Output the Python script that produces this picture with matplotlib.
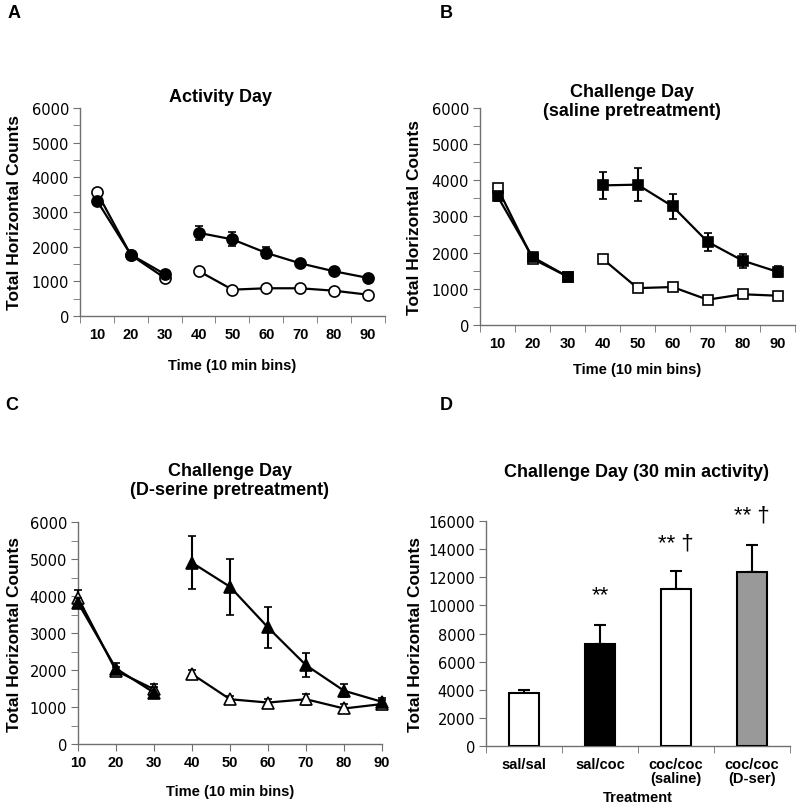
import matplotlib
matplotlib.use("Agg")
import matplotlib.pyplot as plt
import numpy as np
from matplotlib.ticker import MultipleLocator, FixedLocator

plt.rcParams["font.family"] = ["Liberation Sans", "DejaVu Sans"]

# Data
bins = [10, 20, 30, 40, 50, 60, 70, 80, 90]

# Panel A - activity day
a_filled = [3330, 1770, 1210, 2400, 2210, 1820, 1520, 1290, 1100]
a_filled_err = [80, 60, 60, 200, 200, 160, 90, 70, 60]
a_open = [3570, 1760, 1100, 1300, 760, 800, 800, 730, 615]
a_open_err = [60, 50, 40, 60, 40, 30, 30, 30, 30]

# Panel B - challenge day (saline pretreatment)
b_filled = [3560, 1880, 1340, 3860, 3880, 3280, 2300, 1780, 1470]
b_filled_err = [120, 70, 60, 370, 460, 340, 250, 190, 150]
b_open = [3790, 1830, 1340, 1830, 1020, 1050, 700, 850, 810]
b_open_err = [60, 50, 40, 40, 30, 30, 30, 30, 30]

# Panel C - challenge day (D-serine pretreatment)
c_filled = [3820, 2040, 1390, 4900, 4250, 3150, 2130, 1440, 1140]
c_filled_err = [130, 150, 160, 710, 760, 560, 320, 180, 110]
c_open = [3950, 1980, 1480, 1890, 1210, 1120, 1210, 960, 1080]
c_open_err = [220, 100, 150, 120, 100, 100, 150, 130, 110]

# Panel D - 30 min activity
treatments = ["sal/sal", "sal/coc", "coc/coc\n(saline)", "coc/coc\n(D-ser)"]
d_means = [3790, 7270, 11200, 12370]
d_err = [170, 1350, 1230, 1940]
d_colors = ["white", "black", "white", "#999999"]
d_marks = ["", "**", "** \u2020", "** \u2020"]
d_mark_y = [0, 10750, 14450, 16400]

SPINE = "#707070"


def style_axes(ax):
    for s in ["top", "right"]:
        ax.spines[s].set_visible(False)
    for s in ["left", "bottom"]:
        ax.spines[s].set_color(SPINE)
        ax.spines[s].set_linewidth(1.0)
    ax.tick_params(axis="y", which="both", direction="out", length=5,
                   color=SPINE, labelsize=10.5, pad=3)
    for lab in ax.get_yticklabels():
        lab.set_fontfamily("DejaVu Sans")
    ax.set_ylabel("Total Horizontal Counts", fontsize=12.5, fontweight="bold")


def time_panel(ax, filled, filled_err, opn, opn_err, marker, ms, categorical):
    x = np.arange(len(bins)) if categorical else np.array(bins)
    for seg in [slice(0, 3), slice(3, 9)]:
        ax.errorbar(x[seg], opn[seg], yerr=opn_err[seg], color="black",
                    marker=marker, ms=ms, mfc="white", mec="black", mew=1.2,
                    lw=1.6, elinewidth=1.5, capsize=3, capthick=1.5, zorder=3)
        ax.errorbar(x[seg], filled[seg], yerr=filled_err[seg], color="black",
                    marker=marker, ms=ms, mfc="black", mec="black", mew=1.2,
                    lw=1.6, elinewidth=1.5, capsize=3, capthick=1.5, zorder=4)
    ax.set_ylim(0, 6000)
    ax.yaxis.set_major_locator(MultipleLocator(1000))
    ax.yaxis.set_minor_locator(MultipleLocator(500))
    if categorical:
        ax.set_xlim(-0.5, 8.5)
        ax.set_xticks(x)
        ax.set_xticklabels([str(b) for b in bins])
        ax.xaxis.set_minor_locator(FixedLocator(np.arange(-0.5, 9, 1.0)))
        ax.tick_params(axis="x", which="major", length=0, pad=8)
        ax.tick_params(axis="x", which="minor", length=5, color=SPINE, direction="out")
    else:
        ax.set_xlim(10, 90)
        ax.set_xticks(bins)
        ax.tick_params(axis="x", which="major", length=5, pad=3,
                       color=SPINE, direction="out")
    for lab in ax.get_xticklabels():
        lab.set_fontweight("bold")
        lab.set_fontsize(10.5)
    ax.set_xlabel("Time (10 min bins)", fontsize=10.5, fontweight="bold")
    for line in ax.lines:
        line.set_clip_on(False)
    for coll in ax.collections:
        coll.set_clip_on(False)


fig = plt.figure(figsize=(8, 8.12), dpi=100)

axA = fig.add_axes([0.1, 0.6096, 0.381, 0.2562])
time_panel(axA, a_filled, a_filled_err, a_open, a_open_err, "o", 8, True)
style_axes(axA)
axA.yaxis.set_label_coords(-0.19, 0.5)
axA.xaxis.set_label_coords(0.5, -0.235)
axA.xaxis.label.set_va("center")

axB = fig.add_axes([0.6, 0.5985, 0.394, 0.2673])
time_panel(axB, b_filled, b_filled_err, b_open, b_open_err, "s", 7.5, True)
style_axes(axB)
axB.yaxis.set_label_coords(-0.184, 0.5)
axB.xaxis.set_label_coords(0.5, -0.203)
axB.xaxis.label.set_va("center")

axC = fig.add_axes([0.0975, 0.0825, 0.38, 0.2734])
time_panel(axC, c_filled, c_filled_err, c_open, c_open_err, "^", 9, False)
style_axes(axC)
axC.yaxis.set_label_coords(-0.184, 0.5)
axC.xaxis.set_label_coords(0.5, -0.212)
axC.xaxis.label.set_va("center")

# Panel D bars
axD = fig.add_axes([0.6075, 0.08, 0.38, 0.277])
xd = np.arange(len(treatments))
axD.bar(xd, d_means, width=0.39, color=d_colors, edgecolor="black",
        linewidth=1.5, zorder=3)
axD.errorbar(xd, d_means, yerr=[np.zeros(len(d_err)), d_err], fmt="none",
             ecolor="black", elinewidth=1.5, capsize=4, capthick=1.5, zorder=2)
for xi, m, my in zip(xd, d_marks, d_mark_y):
    if m:
        axD.text(xi, my, m, ha="center", va="center", fontsize=16,
                 clip_on=False)
axD.set_ylim(0, 16000)
axD.set_xlim(-0.5, 3.5)
axD.yaxis.set_major_locator(MultipleLocator(2000))
axD.set_xticks(xd)
axD.set_xticklabels(treatments, fontsize=10.5, fontweight="bold", va="top",
                    linespacing=1.0)
axD.xaxis.set_minor_locator(FixedLocator(np.arange(-0.5, 4, 1.0)))
axD.tick_params(axis="x", which="major", length=0, pad=8)
axD.tick_params(axis="x", which="minor", length=5, color=SPINE, direction="out")
style_axes(axD)
axD.yaxis.set_label_coords(-0.207, 0.5)
axD.set_xlabel("Treatment", fontsize=10.5, fontweight="bold")
axD.xaxis.set_label_coords(0.5, -0.227)
axD.xaxis.label.set_va("center")

# Titles
fig.text(0.276, 1 - 97 / 812, "Activity Day", ha="center", va="center",
         fontsize=13, fontweight="bold")
fig.text(0.79, 1 - 102 / 812, "Challenge Day\n(saline pretreatment)",
         ha="center", va="center", fontsize=13, fontweight="bold",
         linespacing=1.15)
fig.text(0.287, 1 - 481 / 812, "Challenge Day\n(D-serine pretreatment)",
         ha="center", va="center", fontsize=13, fontweight="bold",
         linespacing=1.15)
fig.text(0.796, 1 - 473 / 812, "Challenge Day (30 min activity)",
         ha="center", va="center", fontsize=13, fontweight="bold")

# Panel letters
for letter, px, py in [("A", 14, 14), ("B", 446, 14), ("C", 12, 406), ("D", 446, 406)]:
    fig.text(px / 800, 1 - py / 812, letter, ha="center", va="center",
             fontsize=13, fontweight="bold")

fig.savefig("out.png", dpi=100, facecolor="white")
